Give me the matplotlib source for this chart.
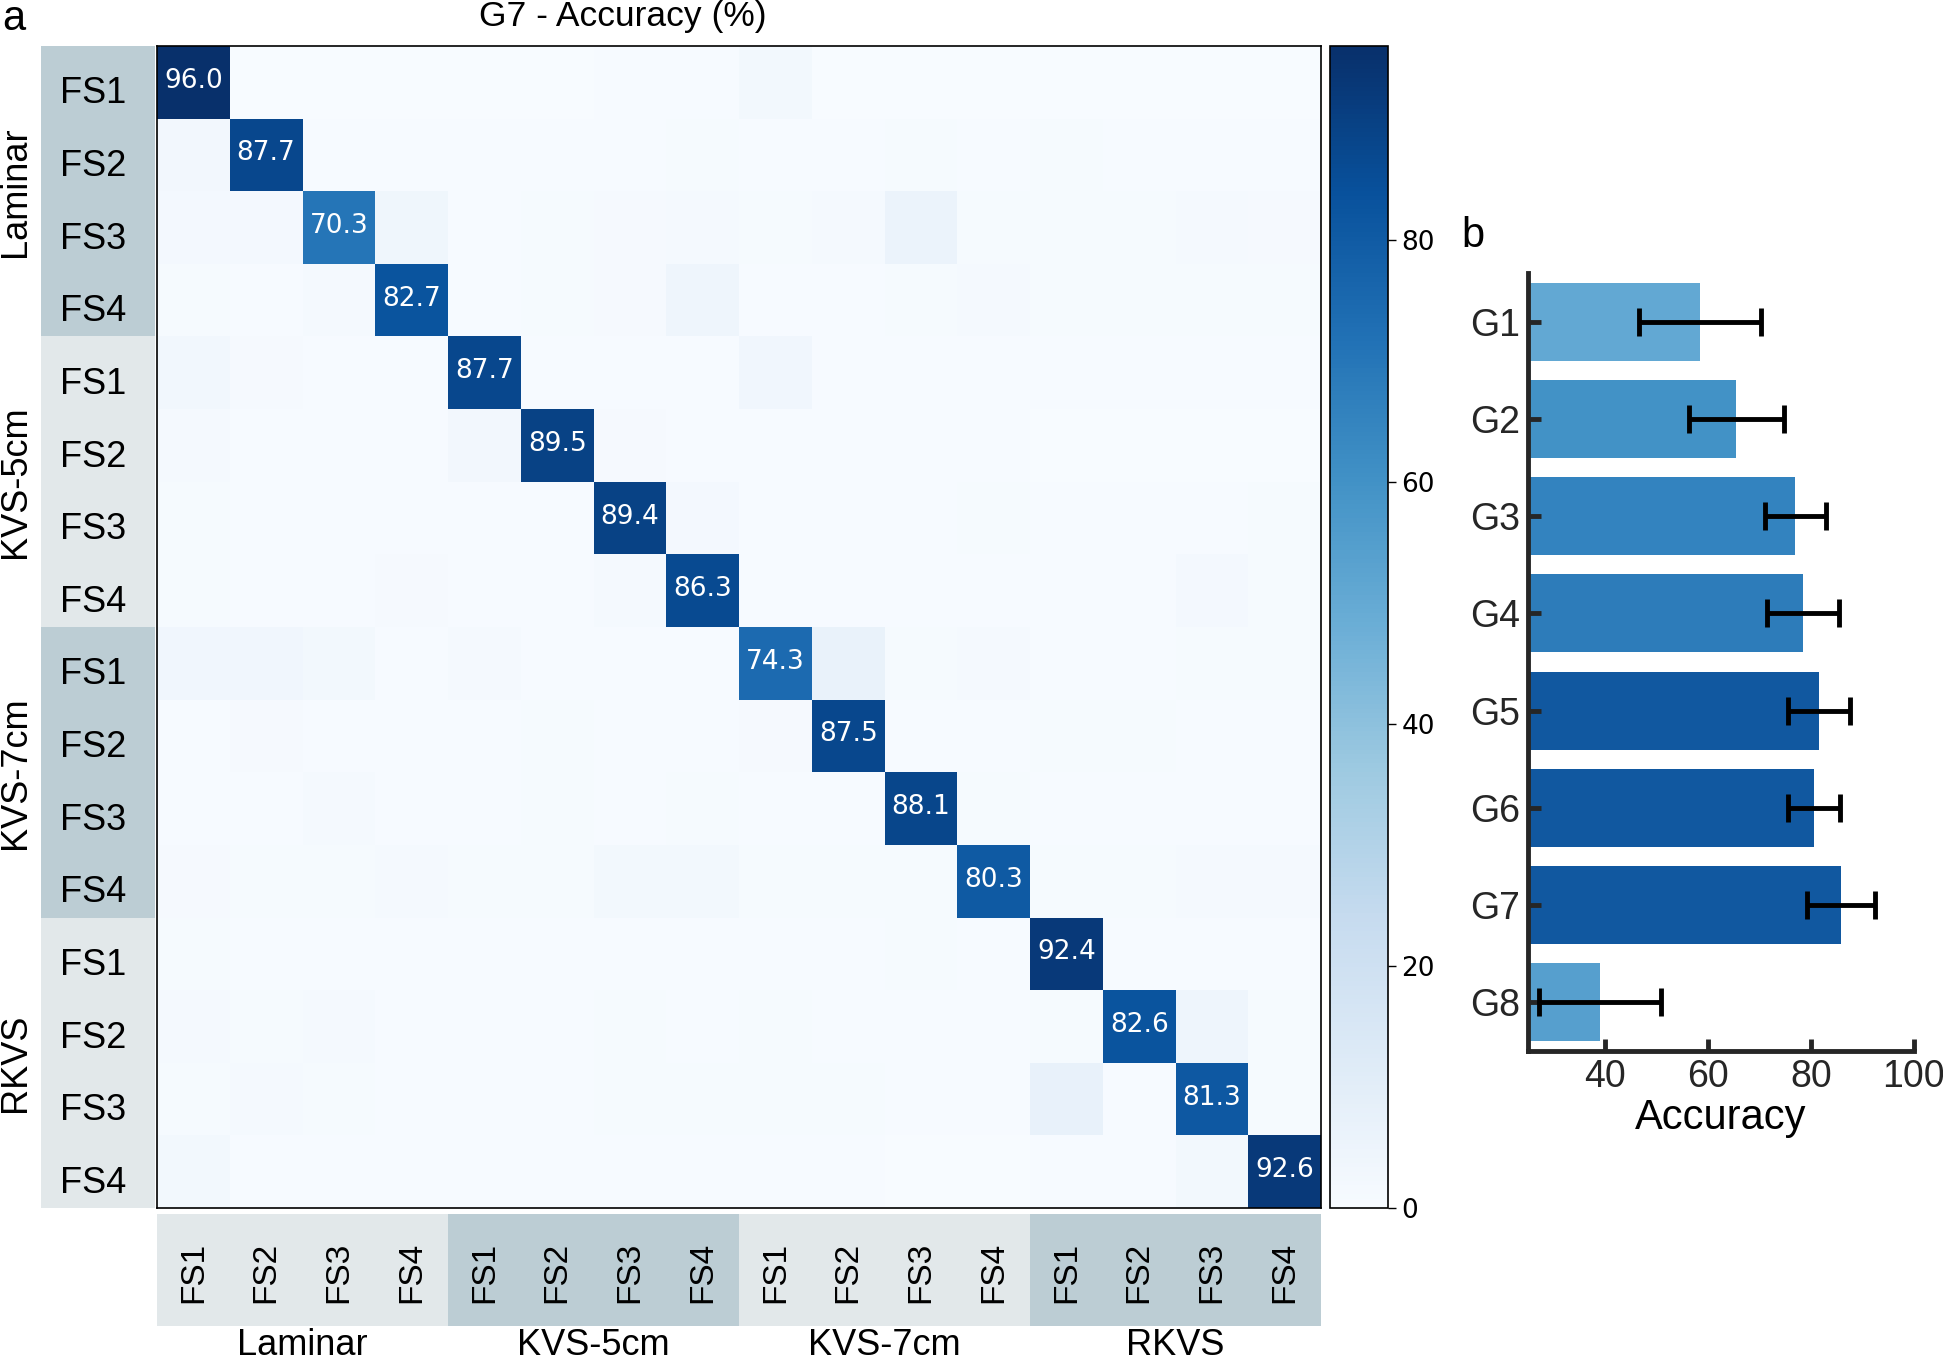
import numpy as np
import matplotlib
matplotlib.use('Agg')
import matplotlib.pyplot as plt
from matplotlib.colors import Normalize

plt.rcParams['font.family'] = ['Liberation Sans', 'DejaVu Sans']

groups = ['Laminar', 'KVS-5cm', 'KVS-7cm', 'RKVS']
fs_labels = ['FS1', 'FS2', 'FS3', 'FS4']

# G7 confusion matrix (%), rows = true, cols = predicted
conf = np.array([
    [96.0, 0.3, 0.2, 0.2, 0.3, 0.3, 0.4, 0.4, 2.6, 0.3, 0.2, 0.2, 0.2, 0.2, 0.2, 0.2],
    [2.8, 87.7, 0.6, 0.4, 0.4, 0.5, 0.4, 0.8, 0.6, 0.7, 0.9, 0.7, 1.0, 0.6, 0.5, 0.5],
    [1.9, 2.0, 70.3, 3.8, 0.6, 0.8, 1.4, 1.6, 0.9, 1.6, 5.8, 1.0, 0.9, 1.0, 1.8, 1.2],
    [0.8, 0.6, 1.6, 82.7, 0.7, 0.9, 1.3, 4.3, 0.6, 0.7, 0.9, 1.7, 0.8, 0.8, 0.9, 0.9],
    [3.3, 1.4, 0.6, 0.4, 87.7, 0.5, 0.6, 0.6, 3.4, 0.4, 0.5, 0.5, 0.4, 0.4, 0.4, 0.4],
    [1.6, 0.5, 0.4, 0.4, 2.7, 89.5, 1.2, 0.5, 0.7, 0.5, 0.5, 0.4, 0.3, 0.3, 0.3, 0.3],
    [0.8, 0.5, 0.4, 0.5, 0.4, 0.6, 89.4, 2.0, 0.6, 0.6, 0.7, 0.8, 0.6, 0.6, 0.7, 0.8],
    [0.8, 0.5, 0.5, 1.3, 0.6, 0.6, 1.8, 86.3, 0.6, 0.5, 0.6, 0.7, 0.6, 0.6, 2.0, 1.1],
    [3.6, 3.4, 2.3, 0.6, 1.6, 0.6, 0.5, 0.6, 74.3, 6.8, 0.8, 1.6, 0.7, 0.7, 0.8, 0.8],
    [0.7, 1.2, 0.6, 0.6, 0.7, 1.1, 0.6, 0.7, 1.2, 87.5, 0.7, 0.6, 1.0, 0.9, 0.6, 0.6],
    [0.6, 0.5, 1.8, 0.6, 0.5, 0.9, 0.6, 1.1, 0.6, 0.7, 88.1, 0.9, 0.6, 0.6, 0.6, 0.6],
    [1.2, 0.8, 0.8, 1.6, 0.8, 1.0, 2.6, 2.6, 0.8, 0.8, 0.9, 80.3, 0.8, 0.8, 1.5, 1.6],
    [0.9, 0.5, 0.4, 0.4, 0.4, 0.4, 0.5, 0.4, 0.6, 0.4, 0.8, 0.5, 92.4, 0.6, 0.4, 0.4],
    [1.7, 1.1, 1.8, 0.6, 0.6, 0.6, 0.8, 0.7, 1.0, 0.6, 0.6, 0.7, 0.8, 82.6, 4.6, 0.8],
    [1.0, 1.6, 0.8, 0.6, 0.6, 0.6, 1.0, 0.8, 1.1, 0.8, 0.6, 0.6, 7.2, 0.6, 81.3, 0.8],
    [2.4, 0.5, 0.4, 0.4, 0.4, 0.5, 0.4, 0.4, 0.4, 0.4, 0.3, 0.3, 0.5, 0.4, 2.4, 92.6],
])

bar_groups = ['G1', 'G2', 'G3', 'G4', 'G5', 'G6', 'G7', 'G8']
bar_acc = [58.5, 65.5, 77.0, 78.5, 81.6, 80.6, 85.8, 39.0]
bar_err = [11.9, 9.2, 6.0, 7.0, 6.0, 5.1, 6.6, 11.8]
bar_colors = ['#62a8d3', '#4292c6', '#3383bf', '#2d7cba', '#1158a0', '#1158a0', '#1158a0', '#569fce']

strip_dark = '#bccdd4'
strip_light = '#e2e8ea'

fig = plt.figure(figsize=(19.43, 13.63), dpi=100)

n = conf.shape[0]
norm = Normalize(vmin=0, vmax=conf.max())

# heatmap
ax = fig.add_axes([0.0808, 0.1137, 0.5991, 0.8526])
mesh = ax.pcolormesh(conf, cmap='Blues', norm=norm)
ax.set_xlim(0, n)
ax.set_ylim(n, 0)
ax.set_xticks([])
ax.set_yticks([])
for s in ax.spines.values():
    s.set_linewidth(1.2)
    s.set_color('black')
for i in range(n):
    ax.text(i + 0.5, i + 0.48, '%.1f' % conf[i, i], ha='center', va='center',
            color='white', fontsize=19, family='DejaVu Sans')

# colorbar
cax = fig.add_axes([0.6845, 0.1137, 0.0299, 0.8526])
cb = fig.colorbar(mesh, cax=cax)
cb.set_ticks([0, 20, 40, 60, 80])
cb.outline.set_linewidth(1.2)
cax.tick_params(labelsize=19, length=6, width=1)
for t in cax.get_yticklabels():
    t.set_family('DejaVu Sans')

# row label strip
rax = fig.add_axes([0.0211, 0.1137, 0.0587, 0.8526])
rax.set_xlim(0, 1)
rax.set_ylim(n, 0)
rax.axis('off')
for g in range(4):
    c = strip_dark if g % 2 == 0 else strip_light
    rax.axhspan(g * 4, g * 4 + 4, color=c, lw=0)
    for k in range(4):
        rax.text(0.46, g * 4 + k + 0.66, fs_labels[k], ha='center', va='center', fontsize=26)
    fig.text(0.008, 0.9663 - 0.8526 * (g * 4 + 2) / n, groups[g], rotation=90,
             ha='center', va='center', fontsize=26)

# column label strip
cax2 = fig.add_axes([0.0808, 0.0271, 0.5991, 0.0822])
cax2.set_xlim(0, n)
cax2.set_ylim(0, 1)
cax2.axis('off')
for g in range(4):
    c = strip_light if g % 2 == 0 else strip_dark
    cax2.axvspan(g * 4, g * 4 + 4, color=c, lw=0)
    for k in range(4):
        cax2.text(g * 4 + k + 0.5, 0.48, fs_labels[k], rotation=90, ha='center', va='center', fontsize=24)
    fig.text(0.0808 + 0.5991 * (g * 4 + 2) / n, 0.0125, groups[g],
             ha='center', va='center', fontsize=26)

fig.text(0.3206, 0.988, 'G7 - Accuracy (%)', ha='center', va='center', fontsize=25.5)
fig.text(0.001, 0.986, 'a', ha='left', va='center', fontsize=30)

# bar chart
bx = fig.add_axes([0.7864, 0.2289, 0.1985, 0.5708])
y = np.arange(len(bar_groups))
bx.barh(y, bar_acc, height=0.8, color=bar_colors)
bx.errorbar(bar_acc, y, xerr=bar_err, fmt='none', ecolor='black', elinewidth=3.5,
            capsize=10, capthick=3.5)
bx.set_xlim(25, 100)
bx.set_ylim(7.5, -0.5)
bx.set_yticks(y)
bx.set_yticklabels(bar_groups)
bx.set_xticks([40, 60, 80, 100])
bx.set_xlabel('Accuracy', fontsize=30, labelpad=2)
bx.spines['top'].set_visible(False)
bx.spines['right'].set_visible(False)
for s in ['left', 'bottom']:
    bx.spines[s].set_linewidth(3.5)
    bx.spines[s].set_color('#262626')
bx.tick_params(direction='in', length=9, width=3.5, color='#262626',
               labelsize=27, labelcolor='#262626', pad=6)
fig.text(0.752, 0.827, 'b', ha='left', va='center', fontsize=30)

fig.savefig('out.png', dpi=100)
